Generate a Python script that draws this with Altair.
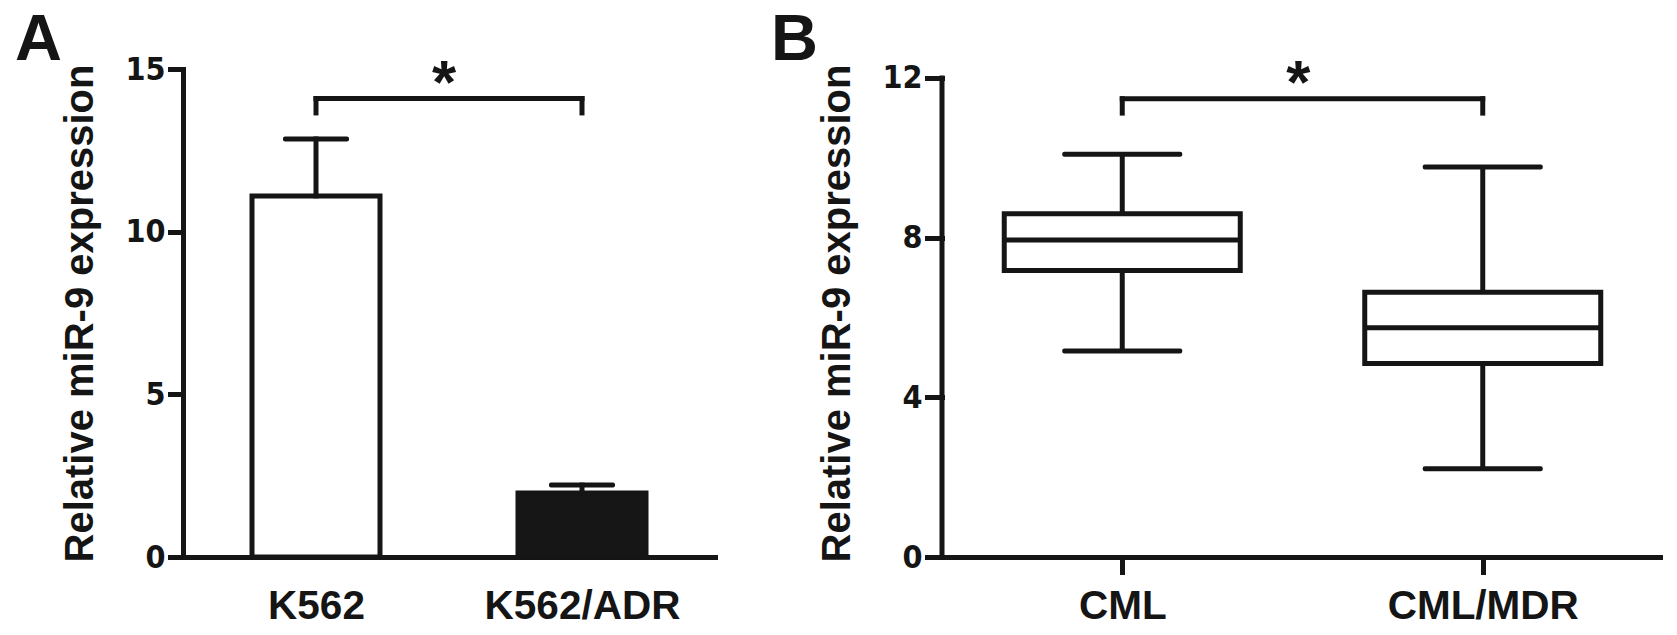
import altair as alt
import pandas as pd

# ---------------- data ----------------
panel_letters = ["A", "B"]

a_groups = ["K562", "K562/ADR"]
a_means = [11.1, 1.97]
a_errors = [1.75, 0.24]
a_fills = ["#ffffff", "#161616"]
a_yticks = [0, 5, 10, 15]
a_bracket = [14.09, 13.65]   # bracket level, bracket end level
a_star = [13.95]

b_groups = ["CML", "CML/MDR"]
b_min = [5.16, 2.21]
b_q1 = [7.18, 4.85]
b_median = [7.94, 5.74]
b_q3 = [8.60, 6.63]
b_max = [10.09, 9.77]
b_yticks = [0, 4, 8, 12]
b_bracket = [11.48, 11.12]
b_star = [11.38]

INK = "#151515"
FONT = "Liberation Sans"
NARROW = "Liberation Sans Narrow, DejaVu Sans Condensed, Liberation Sans"

dfA = pd.DataFrame({
    "group": a_groups,
    "mean": a_means,
    "upper": [m + e for m, e in zip(a_means, a_errors)],
    "fill": a_fills,
})
brA = pd.DataFrame({"x1": [a_groups[0]], "x2": [a_groups[1]],
                    "y": [a_bracket[0]], "yend": [a_bracket[1]], "star": a_star})

dfB = pd.DataFrame({"group": b_groups, "lo": b_min, "q1": b_q1,
                    "med": b_median, "q3": b_q3, "hi": b_max})
brB = pd.DataFrame({"x1": [b_groups[0]], "x2": [b_groups[1]],
                    "y": [b_bracket[0]], "yend": [b_bracket[1]], "star": b_star})
axB = pd.DataFrame({"y0": [b_yticks[0]], "y1": [b_yticks[-1]]})

# ---------------- scales / axes ----------------
xsA = alt.Scale(type="point", domain=a_groups, padding=0.5)
ysA = alt.Scale(domain=[0, 15], nice=False, zero=True)
xsB = alt.Scale(type="point", domain=b_groups, padding=0.5)
ysB = alt.Scale(domain=[0, 12.225], nice=False, zero=True)

common_axis = dict(domainColor=INK, domainWidth=5, domainCap="square",
                   tickColor=INK, tickWidth=5, tickCap="square", grid=False,
                   labelColor=INK, titleColor=INK, labelLimit=500)

yaxA = alt.Axis(values=a_yticks, title="Relative miR-9 expression",
                tickSize=13, labelPadding=5, labelFont=NARROW, labelFontSize=32,
                labelFontWeight="bold", titleFont=FONT, titleFontSize=40,
                titleFontWeight="bold", titlePadding=24, **common_axis)
xaxA = alt.Axis(title=None, labelAngle=0, ticks=False, tickSize=0, labelPadding=29,
                labelFont=FONT, labelFontSize=40.5, labelFontWeight="bold", **common_axis)

yaxB = alt.Axis(values=b_yticks, title="Relative miR-9 expression", domain=False,
                tickSize=15, labelPadding=5, labelFont=NARROW, labelFontSize=32,
                labelFontWeight="bold", titleFont=FONT, titleFontSize=40,
                titleFontWeight="bold", titlePadding=24, **common_axis)
xaxB = alt.Axis(title=None, labelAngle=0, ticks=True, tickSize=15, labelPadding=14,
                labelFont=FONT, labelFontSize=40.5, labelFontWeight="bold", **common_axis)

rule_style = dict(strokeWidth=5, color=INK, strokeCap="square", opacity=1)
tick_style = dict(thickness=5, color=INK, opacity=1, cornerRadius=2)
letter_style = dict(font=FONT, fontSize=65, fontWeight="bold", color=INK,
                    baseline="top", align="left")

# ---------------- panel A ----------------
bA = alt.Chart(dfA)
bars = bA.mark_bar(width=128, stroke=INK, strokeWidth=5, opacity=1).encode(
    x=alt.X("group:N", scale=xsA, axis=xaxA, sort=a_groups),
    y=alt.Y("mean:Q", scale=ysA, axis=yaxA),
    fill=alt.Fill("fill:N", scale=None),
)
err = bA.mark_rule(**rule_style).encode(
    x=alt.X("group:N", scale=xsA, sort=a_groups),
    y=alt.Y("mean:Q", scale=ysA), y2="upper:Q")
cap = bA.mark_tick(size=66, **tick_style).encode(
    x=alt.X("group:N", scale=xsA, sort=a_groups),
    y=alt.Y("upper:Q", scale=ysA))

cA = alt.Chart(brA)
brh = cA.mark_rule(**rule_style).encode(
    x=alt.X("x1:N", scale=xsA), x2="x2:N", y=alt.Y("y:Q", scale=ysA))
brl = cA.mark_rule(**rule_style).encode(
    x=alt.X("x1:N", scale=xsA), y=alt.Y("y:Q", scale=ysA), y2="yend:Q")
brr = cA.mark_rule(**rule_style).encode(
    x=alt.X("x2:N", scale=xsA), y=alt.Y("y:Q", scale=ysA), y2="yend:Q")
starA = cA.mark_text(text="*", font=FONT, fontSize=62, fontWeight="bold",
                     color=INK, dx=128, baseline="alphabetic", align="center").encode(
    x=alt.X("x1:N", scale=xsA), y=alt.Y("star:Q", scale=ysA))

letterA = alt.Chart(pd.DataFrame({"letter": [panel_letters[0]]})).mark_text(
    **letter_style).encode(text="letter:N", x=alt.value(-168), y=alt.value(-60))

panelA = alt.layer(bars, err, cap, brh, brl, brr, starA, letterA).properties(
    width=532, height=488)

# ---------------- panel B ----------------
bB = alt.Chart(dfB)
xB = alt.X("group:N", scale=xsB, axis=xaxB, sort=b_groups)
whisk = bB.mark_rule(strokeWidth=5, color=INK, opacity=1).encode(
    x=xB, y=alt.Y("lo:Q", scale=ysB, axis=yaxB), y2="hi:Q")
capLo = bB.mark_tick(size=120, **tick_style).encode(
    x=xB, y=alt.Y("lo:Q", scale=ysB))
capHi = bB.mark_tick(size=120, **tick_style).encode(
    x=xB, y=alt.Y("hi:Q", scale=ysB))
box = bB.mark_bar(width=236, fill="#ffffff", stroke=INK, strokeWidth=5, opacity=1).encode(
    x=xB, y=alt.Y("q1:Q", scale=ysB), y2="q3:Q")
med = bB.mark_tick(size=236, thickness=5, color=INK, opacity=1).encode(
    x=xB, y=alt.Y("med:Q", scale=ysB))

yline = alt.Chart(axB).mark_rule(**rule_style).encode(
    x=alt.value(0), y=alt.Y("y0:Q", scale=ysB), y2="y1:Q")

cB = alt.Chart(brB)
brhB = cB.mark_rule(**rule_style).encode(
    x=alt.X("x1:N", scale=xsB), x2="x2:N", y=alt.Y("y:Q", scale=ysB))
brlB = cB.mark_rule(**rule_style).encode(
    x=alt.X("x1:N", scale=xsB), y=alt.Y("y:Q", scale=ysB), y2="yend:Q")
brrB = cB.mark_rule(**rule_style).encode(
    x=alt.X("x2:N", scale=xsB), y=alt.Y("y:Q", scale=ysB), y2="yend:Q")
starB = cB.mark_text(text="*", font=FONT, fontSize=62, fontWeight="bold",
                     color=INK, dx=176, baseline="alphabetic", align="center").encode(
    x=alt.X("x1:N", scale=xsB), y=alt.Y("star:Q", scale=ysB))

letterB = alt.Chart(pd.DataFrame({"letter": [panel_letters[1]]})).mark_text(
    **letter_style).encode(text="letter:N", x=alt.value(-171), y=alt.value(-60))

panelB = alt.layer(whisk, capLo, capHi, box, med, yline, brhB, brlB, brrB,
                   starB, letterB).properties(width=721, height=488)

chart = alt.hconcat(panelA, panelB, spacing=56).properties(
    padding={"left": 7, "top": 0, "right": 0, "bottom": 0}
).configure(background="#ffffff", view=alt.ViewConfig(stroke=None))

chart.save("out.html", embed_options={"renderer": "svg", "actions": False})
